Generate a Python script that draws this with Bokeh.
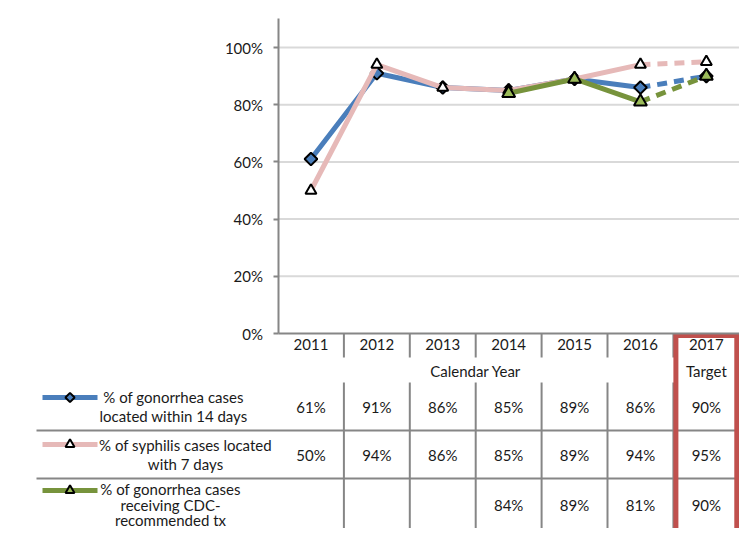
from bokeh.plotting import figure
from bokeh.models import Range1d, LinearAxis, FixedTicker
from bokeh.core.properties import value
from bokeh.embed import file_html
from bokeh.resources import INLINE
import math

# ---------------- data ----------------
years = ["2011", "2012", "2013", "2014", "2015", "2016", "2017"]
gon_located = [61, 91, 86, 85, 89, 86, 90]
syph_located = [50, 94, 86, 85, 89, 94, 95]
gon_treated = [None, None, None, 84, 89, 81, 90]
series_labels = [
    ["% of gonorrhea cases", "located within 14 days"],
    ["% of syphilis cases located", "with 7 days"],
    ["% of gonorrhea cases", "receiving CDC-", "recommended tx"],
]
y_ticks = [0, 20, 40, 60, 80, 100]
y_tick_labels = ["0%", "20%", "40%", "60%", "80%", "100%"]
x_title = "Calendar Year"
target_label = "Target"

# ---------------- layout (picture pixels) ----------------
W, H = 739, 528
X0 = 277.5          # left edge of plot area
CW = 65.9           # category width
Y0 = 333.0          # 0% line
UNIT = 2.86         # px per percent
FONT_NAME = "Lato"
FONT = value(FONT_NAME)
FS = "15px"
TXT = "#1a1a1a"
AX = "#868686"

colors = ["#4a7ebb", "#e6b9b8", "#77933c"]
fills = ["#4a7ebb", "#ffffff", "#9bbb59"]
markers = ["square", "triangle", "triangle"]
angles = [math.pi / 4, 0, 0]
msizes = [9, 11, 13]
key_sizes = [6.5, 9, 9]
row_y = [406, 454, 504]
row_text_y = [[396, 415], [444, 463], [488, 504, 519]]
key_y = [397, 444, 490]
row_text_x = [173, 185, 170]

x_start = (0 - X0) / CW
x_end = (W - X0) / CW
y_end = Y0 / UNIT
y_start = -(H - Y0) / UNIT

p = figure(width=W, height=H, x_range=Range1d(x_start, x_end), y_range=Range1d(y_start, y_end),
           output_backend="svg", toolbar_location=None, x_axis_location=None, y_axis_location=None,
           min_border=0, outline_line_color=None, background_fill_color="white")
p.xgrid.visible = False
p.ygrid.visible = False
p.extra_y_ranges = {"tbl": Range1d(H, 0)}
p.extra_x_ranges = {"px": Range1d(0, W)}

n = len(years)
xc = [i + 0.5 for i in range(n)]

# gridlines
grid_vals = [t for t in y_ticks if t > 0]
p.segment(x0=[0] * len(grid_vals), x1=[n + 0.03] * len(grid_vals), y0=grid_vals, y1=grid_vals,
          line_color="#d9d9d9", line_width=2)

# axes
yax = LinearAxis(fixed_location=0, bounds=(0, 110), ticker=FixedTicker(ticks=y_ticks, minor_ticks=[]),
                 major_label_overrides={t: l for t, l in zip(y_ticks, y_tick_labels)},
                 axis_line_color=AX, axis_line_width=2, major_tick_line_color=AX, major_tick_line_width=2,
                 major_tick_out=5, major_tick_in=0, minor_tick_out=0, minor_tick_in=0,
                 major_label_standoff=10, major_label_text_font=FONT_NAME, major_label_text_font_size=FS,
                 major_label_text_color=TXT)
p.add_layout(yax, "left")

xax = LinearAxis(fixed_location=0, bounds=(0, n),
                 ticker=FixedTicker(ticks=xc, minor_ticks=[]),
                 major_label_overrides={x: y for x, y in zip(xc, years)},
                 axis_line_color=AX, axis_line_width=2, major_tick_out=0, major_tick_in=0,
                 minor_tick_out=0, minor_tick_in=0,
                 major_label_standoff=5, major_label_text_font=FONT_NAME, major_label_text_font_size=FS,
                 major_label_text_color=TXT)
p.add_layout(xax, "below")

seps = list(range(1, n))
# year-row separators
p.segment(x0=seps, x1=seps, y0=[Y0] * len(seps), y1=[357] * len(seps),
          y_range_name="tbl", line_color=AX, line_width=2)

# series
nan = float("nan")
series = [gon_located, syph_located, gon_treated]
for k, vals in enumerate(series):
    v = [nan if a is None else a for a in vals]
    p.line(xc[:n - 1], v[:n - 1], line_color=colors[k], line_width=5)
    p.line(xc[n - 2:], v[n - 2:], line_color=colors[k], line_width=5, line_dash="10 7")
    p.scatter(xc, v, marker=markers[k], size=msizes[k], angle=angles[k], fill_color=fills[k],
              line_color="black", line_width=2)

# table: headings
p.text(x=[3.0, 6.5], y=[370, 370], y_range_name="tbl", text=[x_title, target_label],
       text_font=FONT, text_font_size=FS, text_color=TXT, text_align="center", text_baseline="middle")

# table: row separators
p.segment(x0=[36, 36], x1=[W, W], y0=[430, 478], y1=[430, 478],
          x_range_name="px", y_range_name="tbl", line_color=AX, line_width=2)
# table: column separators
p.segment(x0=seps, x1=seps, y0=[382] * len(seps), y1=[H + 10] * len(seps),
          y_range_name="tbl", line_color=AX, line_width=2)

# table values
for k, vals in enumerate(series):
    xs = [xc[i] for i, a in enumerate(vals) if a is not None]
    ts = ["%d%%" % a for a in vals if a is not None]
    p.text(x=xs, y=[row_y[k]] * len(xs), y_range_name="tbl", text=ts, text_font=FONT,
           text_font_size=FS, text_color=TXT, text_align="center", text_baseline="middle")

# legend keys + labels
for k in range(3):
    ky = key_y[k]
    p.line([42, 97], [ky, ky], x_range_name="px", y_range_name="tbl", line_color=colors[k], line_width=5)
    p.scatter([69.5], [ky], x_range_name="px", y_range_name="tbl", marker=markers[k], size=key_sizes[k],
              angle=angles[k], fill_color=fills[k], line_color="black", line_width=2)
    lines = series_labels[k]
    p.text(x=[row_text_x[k]] * len(lines), y=row_text_y[k],
           x_range_name="px", y_range_name="tbl", text=lines, text_font=FONT, text_font_size=FS,
           text_color=TXT, text_align="center", text_baseline="middle")

# target highlight box
hw = 2.5 / CW
p.quad(left=[n - 1 + hw], right=[n - hw], top=[335], bottom=[H + 20], y_range_name="tbl",
       fill_alpha=0, line_color="#c0504d", line_width=5, line_join="miter")

open("out.html", "w").write(file_html(p, INLINE))
